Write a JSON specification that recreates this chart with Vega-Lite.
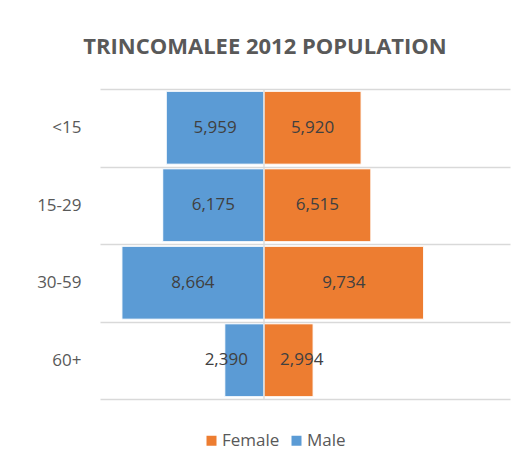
{
  "$schema": "https://vega.github.io/schema/vega-lite/v6.json",
  "width": 410,
  "height": 310,
  "autosize": {"type": "none"},
  "padding": {"left": 100, "top": 89, "right": 10, "bottom": 67},
  "background": "white",
  "config": {"view": {"stroke": null}, "font": "Open Sans"},
  "title": {
    "text": "TRINCOMALEE 2012 POPULATION",
    "fontSize": 22,
    "font": "Open Sans",
    "fontWeight": "bold",
    "color": "#595959",
    "anchor": "middle",
    "dx": -40,
    "offset": 11,
    "baseline": "middle"
  },
  "data": {
    "values": [
      {"age": "<15", "sex": "Male", "population": 5959},
      {"age": "<15", "sex": "Female", "population": 5920},
      {"age": "15-29", "sex": "Male", "population": 6175},
      {"age": "15-29", "sex": "Female", "population": 6515},
      {"age": "30-59", "sex": "Male", "population": 8664},
      {"age": "30-59", "sex": "Female", "population": 9734},
      {"age": "60+", "sex": "Male", "population": 2390},
      {"age": "60+", "sex": "Female", "population": 2994}
    ]
  },
  "transform": [
    {"calculate": "datum.sex === 'Male' ? -datum.population : datum.population", "as": "signed"},
    {"calculate": "(datum.sex === 'Male' ? -1 : 1) * max(datum.population / 2, 2300)", "as": "labelx"}
  ],
  "layer": [
    {
      "mark": {"type": "bar", "height": {"band": 0.94}, "stroke": "white", "strokeWidth": 1},
      "encoding": {
        "y": {
          "field": "age", "type": "nominal",
          "sort": ["<15", "15-29", "30-59", "60+"],
          "scale": {"paddingInner": 0, "paddingOuter": 0},
          "axis": {
            "title": null, "domain": false, "ticks": false,
            "grid": true, "tickBand": "extent", "gridColor": "#d9d9d9", "gridWidth": 1.3,
            "labelFontSize": 17, "labelColor": "#595959", "labelFont": "Open Sans", "labelPadding": 19
          }
        },
        "x": {
          "field": "signed", "type": "quantitative",
          "scale": {"domain": [-10000, 15000], "nice": false},
          "axis": null
        },
        "color": {
          "field": "sex", "type": "nominal",
          "scale": {"domain": ["Female", "Male"], "range": ["#ED7D31", "#5B9BD5"]},
          "legend": {
            "title": null, "orient": "none", "legendX": 103, "legendY": 343,
            "direction": "horizontal", "symbolType": "square", "symbolSize": 100,
            "symbolStrokeWidth": 0, "labelFontSize": 17, "labelFont": "Open Sans",
            "labelColor": "#595959", "columnPadding": 8, "labelOffset": 2
          }
        }
      }
    },
    {
      "data": {"values": [{}]},
      "mark": {"type": "rule", "color": "#d9d9d9", "strokeWidth": 1.3},
      "encoding": {"x": {"datum": 0, "type": "quantitative"}}
    },
    {
      "mark": {"type": "text", "fontSize": 17, "font": "Open Sans", "color": "#404040", "baseline": "middle", "align": "center"},
      "encoding": {
        "y": {"field": "age", "type": "nominal", "sort": ["<15", "15-29", "30-59", "60+"]},
        "x": {"field": "labelx", "type": "quantitative"},
        "text": {"field": "population", "type": "quantitative", "format": ","}
      }
    }
  ]
}
